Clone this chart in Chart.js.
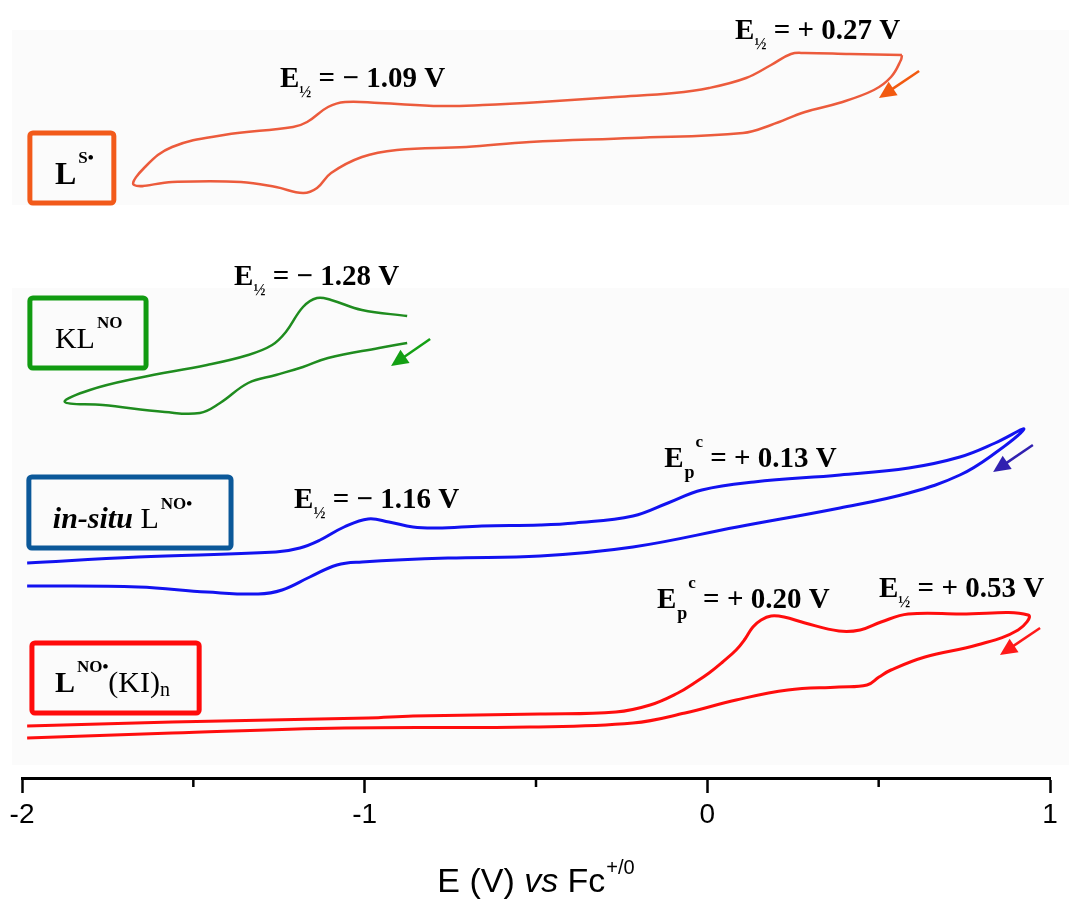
<!DOCTYPE html>
<html>
<head>
<meta charset="utf-8">
<script src="https://cdn.jsdelivr.net/npm/chart.js"></script>
<style>
  html, body { margin: 0; padding: 0; background: #fff; }
</style>
</head>
<body>
<canvas id="cv" width="1069" height="919"></canvas>
<script>
// potential E in V vs Fc+/0, current in arbitrary (stacked) units
const lsE = [0.568, 0.565, 0.536, 0.486, 0.384, 0.285, 0.186, 0.104, -0.217, -0.518, -0.704, -0.906, -1.008, -1.098, -1.139, -1.180, -1.259, -1.361, -1.562, -1.673,
  -1.641, -1.562, -1.411, -1.209, -1.168, -1.107, -1.057, -0.958, -0.777, -0.655, -0.485, -0.267, -0.097, 0.005, 0.113, 0.186, 0.244, 0.285, 0.416, 0.568];
const lsI = [72.0, 71.5, 69.8, 68.5, 67.2, 66.3, 65.0, 64.2, 63.7, 63.3, 62.8, 62.5, 61.8, 60.2, 58.7, 58.2, 58.8, 59.3, 59.3, 59.0,
  60.8, 62.8, 64.0, 64.8, 65.3, 66.8, 67.3, 67.2, 66.9, 67.0, 67.3, 67.8, 68.2, 68.7, 69.7, 71.0, 72.1, 72.2, 72.1, 72.0];

const klE = [-0.876, -0.958, -1.107, -1.180, -1.259, -1.340, -1.422, -1.481, -1.583, -1.764, -1.875,
  -1.802, -1.661, -1.460, -1.340, -1.270, -1.230, -1.180, -1.139, -1.098, -1.008, -0.876];
const klI = [43.2, 42.7, 41.7, 40.8, 40.0, 39.2, 37.2, 36.2, 36.3, 37.0, 37.3,
  38.5, 39.7, 41.0, 42.0, 43.0, 44.3, 46.8, 47.7, 47.5, 46.5, 45.9];

const insE = [-1.985, -1.661, -1.259, -1.189, -1.130, -1.060, -0.990, -0.929, -0.859, -0.789, -0.658, -0.488, -0.386, -0.217, -0.115, -0.016, 0.136, 0.387, 0.588, 0.737, 0.840, 0.924,
  0.840, 0.737, 0.588, 0.387, 0.087, -0.217, -0.488, -0.757, -1.008, -1.081, -1.160, -1.241, -1.311, -1.460, -1.661, -1.985];
const insI = [21.2, 21.8, 22.3, 22.7, 23.5, 24.8, 25.6, 25.3, 24.8, 24.7, 24.9, 25.0, 25.2, 25.9, 27.2, 28.5, 29.3, 30.0, 30.7, 31.8, 33.2, 34.6,
  32.2, 30.0, 28.2, 26.7, 24.8, 22.8, 21.9, 21.7, 21.3, 21.0, 19.8, 18.5, 18.1, 18.3, 18.8, 18.9];

const lkE = [-1.985, -1.562, -0.990, -0.859, -0.488, -0.267, -0.167, -0.086, -0.036, 0.005, 0.043, 0.084, 0.110, 0.133, 0.157, 0.186, 0.224, 0.285, 0.384, 0.446, 0.507, 0.586, 0.737, 0.936,
  0.907, 0.787, 0.635, 0.536, 0.501, 0.466, 0.384, 0.235, 0.084, -0.065, -0.217, -0.518, -1.060, -1.562, -1.985];
const lkI = [4.9, 5.3, 5.7, 5.9, 6.1, 6.3, 7.0, 8.2, 9.25, 10.2, 11.25, 12.5, 13.6, 14.8, 15.5, 15.9, 15.8, 15.2, 14.4, 14.5, 15.3, 16.1, 16.1, 16.0,
  14.5, 13.0, 11.8, 10.5, 9.8, 9.0, 8.8, 8.5, 7.5, 6.2, 5.2, 4.8, 4.7, 4.2, 3.7];

const xTicks = [-2, -1, 0, 1];
const xMinor = [-1.5, -0.5, 0.5];

const toPts = (e, i) => e.map((v, k) => ({ x: v, y: i[k] }));

const serifB = s => 'bold ' + s + 'px "Liberation Serif", "Times New Roman", serif';
const serif = s => s + 'px "Liberation Serif", "Times New Roman", serif';
const sans = s => s + 'px "Liberation Sans", Arial, sans-serif';

function halfWave(v) {
  return [{ t: 'E', font: serifB(29) }, { t: '½', font: serifB(16), dy: 10, dx: 0 }, { t: ' = ' + v + ' V', font: serifB(29) }];
}
function peakC(v) {
  return [{ t: 'E', font: serifB(29) }, { t: 'p', font: serifB(18), dy: 11, dx: 1 }, { t: 'c', font: serifB(17), dy: -20, dx: 1 }, { t: ' = ' + v + ' V', font: serifB(29) }];
}

// text notes: left edge / baseline in data units
const notes = [
  { e: -1.247, i: 68.8, runs: halfWave('\u2212 1.09') },
  { e: 0.081, i: 73.6, runs: halfWave('+ 0.27') },
  { e: -1.381, i: 49.0, runs: halfWave('\u2212 1.28') },
  { e: -1.206, i: 26.7, runs: halfWave('\u2212 1.16') },
  { e: -0.126, i: 30.8, runs: peakC('+ 0.13') },
  { e: -0.147, i: 16.7, runs: peakC('+ 0.20') },
  { e: 0.501, i: 17.8, runs: halfWave('+ 0.53') }
];

const boxes = [
  { e0: -1.977, e1: -1.732, i0: 64.2, i1: 57.2, color: '#f25a1a', te: -1.904, ti: 59.1,
    runs: [{ t: 'L', font: serifB(32) }, { t: 'S•', font: serifB(17), dy: -21, dx: 2 }] },
  { e0: -1.977, e1: -1.638, i0: 47.7, i1: 40.7, color: '#119b11', te: -1.904, ti: 42.7,
    runs: [{ t: 'KL', font: serif(30) }, { t: 'NO', font: serifB(17), dy: -20, dx: 2 }] },
  { e0: -1.980, e1: -1.390, i0: 29.8, i1: 22.7, color: '#0b5899', te: -1.910, ti: 24.7,
    runs: [{ t: 'in-situ', font: 'italic ' + serifB(30) }, { t: ' L', font: serif(30) }, { t: 'NO•', font: serifB(17), dy: -19, dx: 2 }] },
  { e0: -1.971, e1: -1.483, i0: 13.2, i1: 6.2, color: '#ff0a0a', te: -1.904, ti: 8.3,
    runs: [{ t: 'L', font: serifB(30) }, { t: 'NO•', font: serifB(17), dy: -20, dx: 2 }, { t: '(KI)', font: serif(30) }, { t: 'n', font: serif(20), dy: 4 }] }
];

const arrows = [
  { e0: 0.618, i0: 70.4, e1: 0.501, i1: 67.7, color: '#f25a10' },
  { e0: -0.809, i0: 43.6, e1: -0.923, i1: 40.9, color: '#14a014' },
  { e0: 0.950, i0: 33.0, e1: 0.834, i1: 30.3, color: '#3020b0' },
  { e0: 0.971, i0: 14.7, e1: 0.854, i1: 12.0, color: '#ff1a1a' }
];

function drawRuns(ctx, x, y, runs) {
  runs.forEach(r => {
    ctx.font = r.font;
    x += r.dx || 0;
    ctx.fillText(r.t, x, y + (r.dy || 0));
    x += ctx.measureText(r.t).width;
  });
}
function runsWidth(ctx, runs) {
  let w = 0;
  runs.forEach(r => { ctx.font = r.font; w += (r.dx || 0) + ctx.measureText(r.t).width; });
  return w;
}

const decor = {
  id: 'decor',
  beforeDraw(chart) {
    const ctx = chart.ctx;
    ctx.save();
    ctx.fillStyle = '#fff';
    ctx.fillRect(0, 0, chart.width, chart.height);
    ctx.fillStyle = '#fbfbfb';
    ctx.fillRect(12, 30, chart.width - 12, 175);
    ctx.fillRect(12, 288, chart.width - 12, 477);
    ctx.restore();
  },
  afterDraw(chart) {
    const ctx = chart.ctx;
    const xs = chart.scales.x, ys = chart.scales.y;
    const X = v => xs.getPixelForValue(v), Y = v => ys.getPixelForValue(v);
    ctx.save();

    // minor ticks
    ctx.strokeStyle = '#000';
    ctx.lineWidth = 2.5;
    xMinor.forEach(v => {
      ctx.beginPath();
      ctx.moveTo(X(v), chart.chartArea.bottom);
      ctx.lineTo(X(v), chart.chartArea.bottom + 9);
      ctx.stroke();
    });

    // sample boxes
    boxes.forEach(b => {
      ctx.strokeStyle = b.color;
      ctx.lineWidth = 5;
      ctx.beginPath();
      ctx.roundRect(X(b.e0), Y(b.i0), X(b.e1) - X(b.e0), Y(b.i1) - Y(b.i0), 3);
      ctx.stroke();
      ctx.fillStyle = '#000';
      ctx.textBaseline = 'alphabetic';
      drawRuns(ctx, X(b.te), Y(b.ti), b.runs);
    });

    // potential notes
    ctx.fillStyle = '#000';
    notes.forEach(n => drawRuns(ctx, X(n.e), Y(n.i), n.runs));

    // scan direction arrows
    arrows.forEach(a => {
      const x0 = X(a.e0), y0 = Y(a.i0), x1 = X(a.e1), y1 = Y(a.i1);
      const ang = Math.atan2(y1 - y0, x1 - x0);
      const hl = 17, hw = 8;
      ctx.strokeStyle = a.color;
      ctx.fillStyle = a.color;
      ctx.lineWidth = 2.5;
      ctx.beginPath();
      ctx.moveTo(x0, y0);
      ctx.lineTo(x1 - Math.cos(ang) * hl * 0.8, y1 - Math.sin(ang) * hl * 0.8);
      ctx.stroke();
      ctx.beginPath();
      ctx.moveTo(x1, y1);
      ctx.lineTo(x1 - Math.cos(ang) * hl - Math.sin(ang) * hw, y1 - Math.sin(ang) * hl + Math.cos(ang) * hw);
      ctx.lineTo(x1 - Math.cos(ang) * hl + Math.sin(ang) * hw, y1 - Math.sin(ang) * hl - Math.cos(ang) * hw);
      ctx.closePath();
      ctx.fill();
    });

    // axis title
    const title = [
      { t: 'E (V) ', font: sans(34) },
      { t: 'vs', font: 'italic ' + sans(34) },
      { t: ' Fc', font: sans(34) },
      { t: '+/0', font: sans(20), dy: -18, dx: 1 }
    ];
    const w = runsWidth(ctx, title);
    ctx.fillStyle = '#000';
    drawRuns(ctx, (chart.chartArea.left + chart.chartArea.right) / 2 - w / 2, 892, title);
    ctx.restore();
  }
};

const line = (data, color, width) => ({
  data: data,
  showLine: true,
  borderColor: color,
  borderWidth: width,
  pointRadius: 0,
  tension: 0.4,
  fill: false
});

const chart = new Chart(document.getElementById('cv'), {
  type: 'scatter',
  data: {
    datasets: [
      line(toPts(lsE, lsI), '#ec5b3c', 2.5),
      line(toPts(klE, klI), '#1f8c1f', 2.5),
      line(toPts(insE, insI), '#1212f0', 3),
      line(toPts(lkE, lkI), '#ff0d0d', 3)
    ]
  },
  options: {
    responsive: false,
    animation: false,
    events: [],
    layout: { padding: { left: 22, right: 19, top: 0, bottom: 0 } },
    plugins: { legend: { display: false }, tooltip: { enabled: false } },
    scales: {
      x: {
        type: 'linear',
        position: 'bottom',
        min: -2,
        max: 1,
        afterFit(scale) { scale.height = 141; },
        afterBuildTicks(scale) { scale.ticks = xTicks.map(v => ({ value: v })); },
        ticks: {
          color: '#000',
          padding: 5,
          font: { family: '"Liberation Sans", Arial, sans-serif', size: 28 },
          callback: v => String(v)
        },
        grid: { drawOnChartArea: false, drawTicks: true, tickLength: 15, tickWidth: 2.5, tickColor: '#000' },
        border: { display: true, color: '#000', width: 3 }
      },
      y: { display: false, min: -0.3, max: 77.5 }
    }
  },
  plugins: [decor]
});
</script>
</body>
</html>
